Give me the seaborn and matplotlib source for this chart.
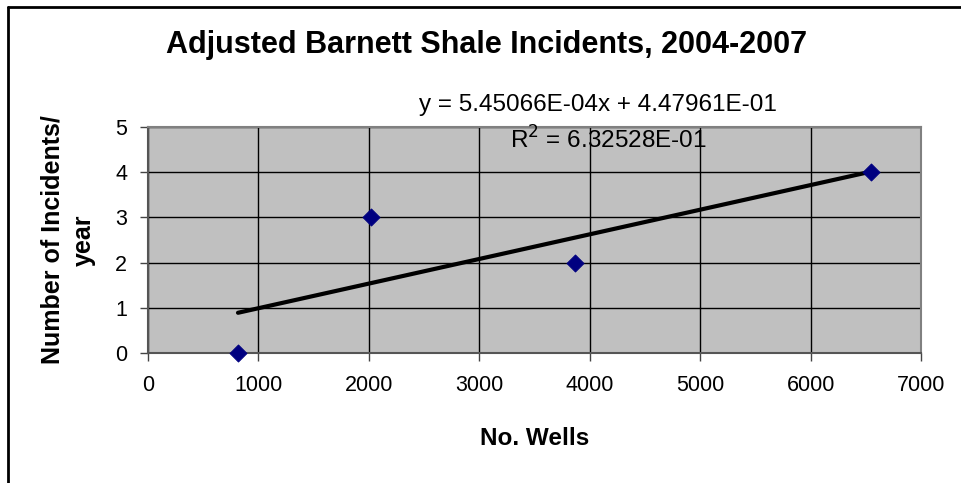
import matplotlib
matplotlib.use("Agg")
import matplotlib.pyplot as plt
import seaborn as sns
import pandas as pd
from matplotlib.lines import Line2D

# data
wells = [815, 2020, 3865, 6545]
incidents = [0, 3, 2, 4]
x_ticks = [0, 1000, 2000, 3000, 4000, 5000, 6000, 7000]
y_ticks = [0, 1, 2, 3, 4, 5]

df = pd.DataFrame({"wells": wells, "incidents": incidents})

sns.set_style("white")
plt.rcParams["font.family"] = ["Liberation Sans", "DejaVu Sans"]
plt.rcParams["text.color"] = "black"
plt.rcParams["axes.labelcolor"] = "black"

fig = plt.figure(figsize=(9.62, 4.83), dpi=100)
ax = fig.add_axes([148 / 962, 130 / 483, 773 / 962, 226 / 483])
ax.set_facecolor("#C0C0C0")

sns.regplot(data=df, x="wells", y="incidents", scatter=False, ci=None,
            truncate=True, color="black", line_kws={"lw": 3, "zorder": 3}, ax=ax)
sns.scatterplot(data=df, x="wells", y="incidents", marker="D", s=75,
                color="#000080", edgecolor="#000080", zorder=4, ax=ax, clip_on=False)

ax.set_xlim(0, 7000)
ax.set_ylim(0, 5)
ax.set_xticks(x_ticks)
ax.set_yticks(y_ticks)
ax.grid(True, color="black", lw=1)
ax.set_axisbelow(True)
ax.tick_params(axis="both", direction="out", length=6, width=1, color="#444444",
               labelcolor="black", labelsize=15.5, bottom=True, left=True)
ax.tick_params(axis="x", pad=10)
ax.tick_params(axis="y", pad=9)
for side in ["left", "bottom"]:
    ax.spines[side].set_color("#555555")
    ax.spines[side].set_linewidth(1.5)
for side in ["top", "right"]:
    ax.spines[side].set_color("#808080")
    ax.spines[side].set_linewidth(1.5)

ax.set_xlabel("No. Wells", fontsize=17.5, fontweight="bold", labelpad=22)
ax.set_ylabel("Number of Incidents/\nyear", fontsize=18, fontweight="bold", labelpad=14,
              linespacing=1.35)

fig.text(487 / 962, 1 - 45 / 483, "Adjusted Barnett Shale Incidents, 2004-2007",
         ha="center", va="center", fontsize=22, fontweight="bold")
fig.text(598 / 962, 1 - 105 / 483, "y = 5.45066E-04x + 4.47961E-01",
         ha="center", va="center", fontsize=17.5)
fig.text(608 / 962, 1 - 140 / 483, "R$^2$ = 6.32528E-01",
         ha="center", va="center", fontsize=17.5)

# outer chart border (top and left visible)
fig.add_artist(Line2D([8 / 962, 8 / 962], [0, 1 - 7 / 483], transform=fig.transFigure,
                      color="black", lw=2))
fig.add_artist(Line2D([8 / 962, 1], [1 - 7 / 483, 1 - 7 / 483], transform=fig.transFigure,
                      color="black", lw=2))

fig.savefig("out.png", dpi=100)
